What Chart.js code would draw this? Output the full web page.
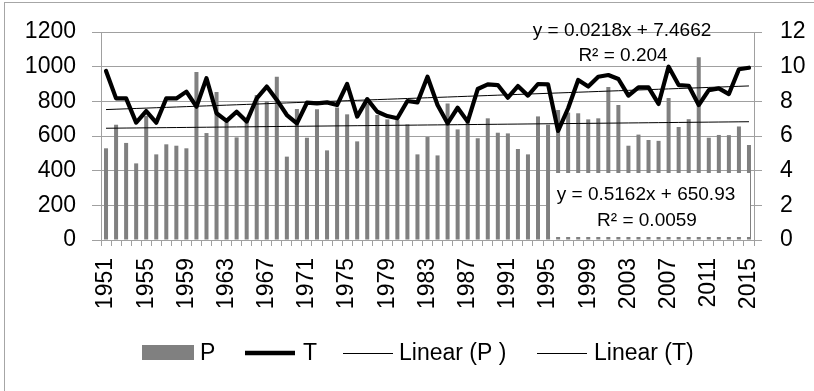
<!DOCTYPE html>
<html>
<head>
<meta charset="utf-8">
<script src="https://cdn.jsdelivr.net/npm/chart.js@4/dist/chart.umd.min.js"></script>
<style>
  html, body { margin: 0; padding: 0; background: #fff; }
  #wrap { width: 814px; height: 391px; position: relative; }
</style>
</head>
<body>
<div id="wrap"><canvas id="c"></canvas></div>
<script>
const years = ['1951','1952','1953','1954','1955','1956','1957','1958','1959','1960',
  '1961','1962','1963','1964','1965','1966','1967','1968','1969','1970',
  '1971','1972','1973','1974','1975','1976','1977','1978','1979','1980',
  '1981','1982','1983','1984','1985','1986','1987','1988','1989','1990',
  '1991','1992','1993','1994','1995','1996','1997','1998','1999','2000',
  '2001','2002','2003','2004','2005','2006','2007','2008','2009','2010',
  '2011','2012','2013','2014','2015'];

const P = [529,665,560,442,717,494,552,544,529,969,
  617,854,680,592,680,836,800,942,481,756,
  590,754,517,765,725,569,788,721,696,692,
  667,494,594,488,788,638,683,587,702,619,
  615,525,494,713,665,750,735,731,696,702,
  882,779,544,608,577,572,819,652,697,1055,
  590,606,605,655,548];

const T = [9.75,8.17,8.17,6.77,7.44,6.77,8.17,8.17,8.56,7.69,
  9.33,7.31,6.87,7.40,6.83,8.17,8.85,8.08,7.21,6.73,
  7.92,7.88,7.94,7.79,9.00,7.12,8.13,7.40,7.15,7.02,
  8.02,7.94,9.42,7.79,6.73,7.63,6.83,8.71,8.98,8.94,
  8.21,8.88,8.33,9.00,8.98,6.29,7.60,9.23,8.85,9.42,
  9.52,9.29,8.33,8.81,8.81,7.85,10.00,8.94,8.90,7.79,
  8.65,8.75,8.42,9.85,9.94];

const leftTicks = [0,200,400,600,800,1000,1200];
const rightTicks = [0,2,4,6,8,10,12];
const seriesNames = ['P','T','Linear (P )','Linear (T)'];
const eqT = ['y = 0.0218x + 7.4662', 'R\u00B2 = 0.204'];
const eqP = ['y = 0.5162x + 650.93', 'R\u00B2 = 0.0059'];

function linearFit(arr) {
  const n = arr.length;
  let sx = 0, sy = 0, sxx = 0, sxy = 0;
  arr.forEach((v, i) => { const x = i + 1; sx += x; sy += v; sxx += x * x; sxy += x * v; });
  const b = (n * sxy - sx * sy) / (n * sxx - sx * sx);
  const a = (sy - b * sx) / n;
  return arr.map((_, i) => a + b * (i + 1));
}
const trendP = linearFit(P);
const trendT = linearFit(T);

const FONT = 'Liberation Sans, Arial, sans-serif';
const GRID = '#a0a0a0';

const decorPlugin = {
  id: 'decor',
  beforeDraw(chart) {
    const ctx = chart.ctx;
    ctx.save();
    ctx.strokeStyle = '#a6a6a6';
    ctx.lineWidth = 1;
    ctx.strokeRect(4.5, 2.5, 1200, 1200);
    ctx.restore();
  },
  afterDatasetsDraw(chart) {
    const ctx = chart.ctx;
    ctx.save();
    ctx.fillStyle = '#fff';
    ctx.fillRect(550, 173, 200, 64);
    ctx.fillStyle = '#000';
    ctx.font = '19px ' + FONT;
    ctx.textAlign = 'center';
    ctx.textBaseline = 'middle';
    ctx.fillText(eqP[0], 646, 195);
    ctx.fillText(eqP[1], 647, 221);
    ctx.fillText(eqT[0], 622, 31);
    ctx.fillText(eqT[1], 623, 56);
    ctx.restore();
  },
  afterDraw(chart) {
    const ctx = chart.ctx;
    const y = 353;
    ctx.save();
    ctx.font = '23px ' + FONT;
    ctx.textBaseline = 'middle';
    ctx.textAlign = 'left';
    ctx.fillStyle = '#808080';
    ctx.fillRect(142, 345, 52, 15);
    ctx.strokeStyle = '#000';
    ctx.lineWidth = 4.5;
    ctx.beginPath(); ctx.moveTo(245, y); ctx.lineTo(295, y); ctx.stroke();
    ctx.lineWidth = 1;
    ctx.beginPath(); ctx.moveTo(343, y + 0.5); ctx.lineTo(393, y + 0.5); ctx.stroke();
    ctx.beginPath(); ctx.moveTo(537, y + 0.5); ctx.lineTo(587, y + 0.5); ctx.stroke();
    ctx.fillStyle = '#000';
    ctx.fillText(seriesNames[0], 200, y + 1);
    ctx.fillText(seriesNames[1], 303, y + 1);
    ctx.fillText(seriesNames[2], 399, y + 1);
    ctx.fillText(seriesNames[3], 594, y + 1);
    ctx.restore();
  }
};

new Chart(document.getElementById('c'), {
  type: 'bar',
  data: {
    labels: years,
    datasets: [
      { type: 'line', label: seriesNames[2], data: trendP, yAxisID: 'y', borderColor: '#000', borderWidth: 1, pointRadius: 0, order: 0 },
      { type: 'line', label: seriesNames[3], data: trendT, yAxisID: 'y1', borderColor: '#000', borderWidth: 1, pointRadius: 0, order: 0 },
      { type: 'line', label: seriesNames[1], data: T, yAxisID: 'y1', borderColor: '#000', borderWidth: 4.2, pointRadius: 0, borderJoinStyle: 'round', borderCapStyle: 'round', tension: 0, order: 1 },
      { type: 'bar', label: seriesNames[0], data: P, yAxisID: 'y', backgroundColor: '#808080', barPercentage: 0.4, categoryPercentage: 1, order: 2 }
    ]
  },
  options: {
    responsive: true,
    maintainAspectRatio: false,
    animation: false,
    layout: { padding: { top: 32, left: 0, right: 0, bottom: 0 } },
    plugins: { legend: { display: false }, tooltip: { enabled: false } },
    scales: {
      x: {
        offset: true,
        grid: { display: true, drawOnChartArea: false, offset: true, tickLength: 6, color: GRID },
        border: { color: GRID },
        ticks: {
          autoSkip: false, maxRotation: 90, minRotation: 90, padding: 12,
          color: '#000', font: { family: FONT, size: 23 },
          callback: (v, i) => (i % 4 === 0 ? years[i] : '')
        },
        afterFit: s => { s.height = 151; }
      },
      y: {
        position: 'left', min: 0, max: 1200,
        afterBuildTicks: s => { s.ticks = leftTicks.map(v => ({ value: v })); },
        grid: { color: GRID, tickLength: 9 },
        border: { color: GRID },
        ticks: { padding: 16, color: '#000', font: { family: FONT, size: 23 }, callback: v => String(v) },
        afterFit: s => { s.width = 101; }
      },
      y1: {
        position: 'right', min: 0, max: 12,
        afterBuildTicks: s => { s.ticks = rightTicks.map(v => ({ value: v })); },
        grid: { drawOnChartArea: false, color: GRID, tickLength: 8 },
        border: { color: GRID },
        ticks: { padding: 18, color: '#000', font: { family: FONT, size: 23 }, callback: v => String(v) },
        afterFit: s => { s.width = 60; }
      }
    }
  },
  plugins: [decorPlugin]
});
</script>
</body>
</html>
